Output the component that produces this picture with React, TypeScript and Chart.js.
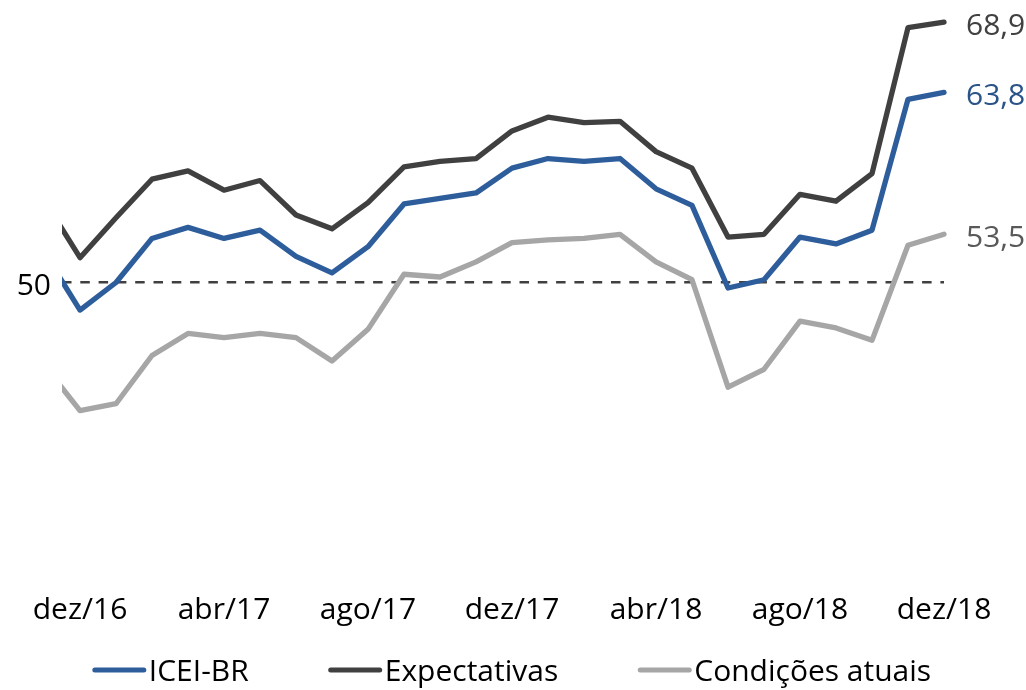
import React, { useEffect, useRef } from "react";
import { Chart, registerables } from "chart.js";

Chart.register(...registerables);

// Months (index 0 = nov/16, partly clipped at the left edge of the plot)
const months = [
  "nov/16", "dez/16", "jan/17", "fev/17", "mar/17", "abr/17", "mai/17", "jun/17",
  "jul/17", "ago/17", "set/17", "out/17", "nov/17", "dez/17", "jan/18", "fev/18",
  "mar/18", "abr/18", "mai/18", "jun/18", "jul/18", "ago/18", "set/18", "out/18",
  "nov/18", "dez/18",
];

const tickLabels = ["dez/16", "abr/17", "ago/17", "dez/17", "abr/18", "ago/18", "dez/18"];

const iceiValues = [
  52.2, 48.0, 50.0, 53.2, 54.0, 53.2, 53.8, 51.9, 50.7, 52.6, 55.7, 56.1, 56.5,
  58.3, 59.0, 58.8, 59.0, 56.8, 55.6, 49.6, 50.2, 53.3, 52.8, 53.8, 63.3, 63.8,
];

const expectativasValues = [
  56.0, 51.8, 54.7, 57.5, 58.1, 56.7, 57.4, 54.9, 53.9, 55.8, 58.4, 58.8, 59.0,
  61.0, 62.0, 61.6, 61.7, 59.5, 58.3, 53.3, 53.5, 56.4, 55.9, 57.9, 68.5, 68.9,
];

const condicoesValues = [
  44.0, 40.7, 41.2, 44.7, 46.3, 46.0, 46.3, 46.0, 44.3, 46.6, 50.6, 50.4, 51.5,
  52.9, 53.1, 53.2, 53.5, 51.5, 50.2, 42.4, 43.7, 47.2, 46.7, 45.8, 52.7, 53.5,
];

const seriesNames = ["ICEI-BR", "Expectativas", "Condições atuais"];
const seriesValues = [iceiValues, expectativasValues, condicoesValues];
const lineColors = ["#2E5D9B", "#404040", "#A6A6A6"];
const labelColors = ["#2A5388", "#404040", "#595959"];

const referenceLine = 50;

const FONT = "'Open Sans', 'Noto Sans', sans-serif";
const FONT_SIZE = 30;

const endLabelPlugin = {
  id: "endLabels",
  afterDatasetsDraw(chart: any) {
    const ctx = chart.ctx;
    ctx.save();
    ctx.font = `${FONT_SIZE}px ${FONT}`;
    ctx.textAlign = "left";
    ctx.textBaseline = "alphabetic";
    chart.data.datasets.forEach((ds: any, i: number) => {
      const meta = chart.getDatasetMeta(i);
      const last = meta.data[meta.data.length - 1];
      const v = seriesValues[i][seriesValues[i].length - 1];
      ctx.fillStyle = labelColors[i];
      ctx.fillText(v.toFixed(1).replace(".", ","), last.x + 22, last.y + 13);
    });
    ctx.restore();
  },
};

const legendPlugin = {
  id: "customLegend",
  afterDraw(chart: any) {
    const ctx = chart.ctx;
    ctx.save();
    ctx.font = `${FONT_SIZE}px ${FONT}`;
    const lineLen = 53;
    const gap = 3;
    const itemGap = 80;
    const widths = seriesNames.map((n) => ctx.measureText(n).width);
    const total =
      widths.reduce((a, w) => a + lineLen + gap + w, 0) + itemGap * (seriesNames.length - 1);
    let x = 512 - total / 2;
    const yLine = 670;
    const yText = 681;
    seriesNames.forEach((n, i) => {
      ctx.strokeStyle = lineColors[i];
      ctx.lineWidth = 5;
      ctx.lineCap = "round";
      ctx.beginPath();
      ctx.moveTo(x + 2, yLine);
      ctx.lineTo(x + lineLen - 2, yLine);
      ctx.stroke();
      ctx.fillStyle = "#000000";
      ctx.textAlign = "left";
      ctx.textBaseline = "alphabetic";
      ctx.fillText(n, x + lineLen + gap, yText);
      x += lineLen + gap + widths[i] + itemGap;
    });
    ctx.restore();
  },
};

export default function App() {
  const canvasRef = useRef<HTMLCanvasElement | null>(null);

  useEffect(() => {
    if (!canvasRef.current) return;
    const tickIdx = tickLabels.map((t) => months.indexOf(t));
    const chart = new Chart(canvasRef.current, {
      type: "line",
      data: {
        datasets: seriesNames.map((name, i) => ({
          label: name,
          data: seriesValues[i].map((v, k) => ({ x: k, y: v })),
          borderColor: lineColors[i],
          backgroundColor: lineColors[i],
          borderWidth: 5.3,
          pointRadius: 0,
          pointHoverRadius: 0,
          tension: 0,
          fill: false,
          borderJoinStyle: "round",
          borderCapStyle: "round",
          clip: { left: 0, top: false, right: false, bottom: false },
        })),
      },
      options: {
        responsive: false,
        maintainAspectRatio: false,
        animation: false,
        layout: { padding: { top: 7, right: 82, bottom: 52, left: 0 } },
        plugins: {
          legend: { display: false },
          tooltip: { enabled: false },
        },
        scales: {
          x: {
            type: "linear",
            min: 0.5,
            max: months.length - 1,
            grid: { display: false, drawTicks: false },
            border: { display: false },
            afterBuildTicks: (s: any) => {
              s.ticks = tickIdx.map((v) => ({ value: v }));
            },
            afterFit: (s: any) => {
              s.height = 80;
              s.paddingLeft = 0;
              s.paddingRight = 0;
            },
            ticks: {
              autoSkip: false,
              maxRotation: 0,
              minRotation: 0,
              padding: 34,
              color: "#000000",
              font: { family: FONT, size: FONT_SIZE },
              callback: (v: any) => months[v as number],
            },
          },
          y: {
            min: 30,
            max: 70,
            afterBuildTicks: (s: any) => {
              s.ticks = [{ value: referenceLine }];
            },
            afterFit: (s: any) => {
              s.width = 62;
              s.paddingTop = 0;
              s.paddingBottom = 0;
            },
            grid: { color: "#404040", lineWidth: 2.5, drawTicks: false },
            border: { display: false, dash: [9.5, 8.8] },
            ticks: {
              padding: 11,
              labelOffset: 4,
              color: "#000000",
              font: { family: FONT, size: FONT_SIZE },
              callback: (v: any) => String(v),
            },
          },
        },
      },
      plugins: [endLabelPlugin, legendPlugin],
    } as any);
    return () => chart.destroy();
  }, []);

  return (
    <div style={{ position: "absolute", left: 0, top: 0, width: 1026, height: 690, background: "#ffffff" }}>
      <canvas ref={canvasRef} width={1026} height={690} style={{ width: 1026, height: 690 }} />
    </div>
  );
}
